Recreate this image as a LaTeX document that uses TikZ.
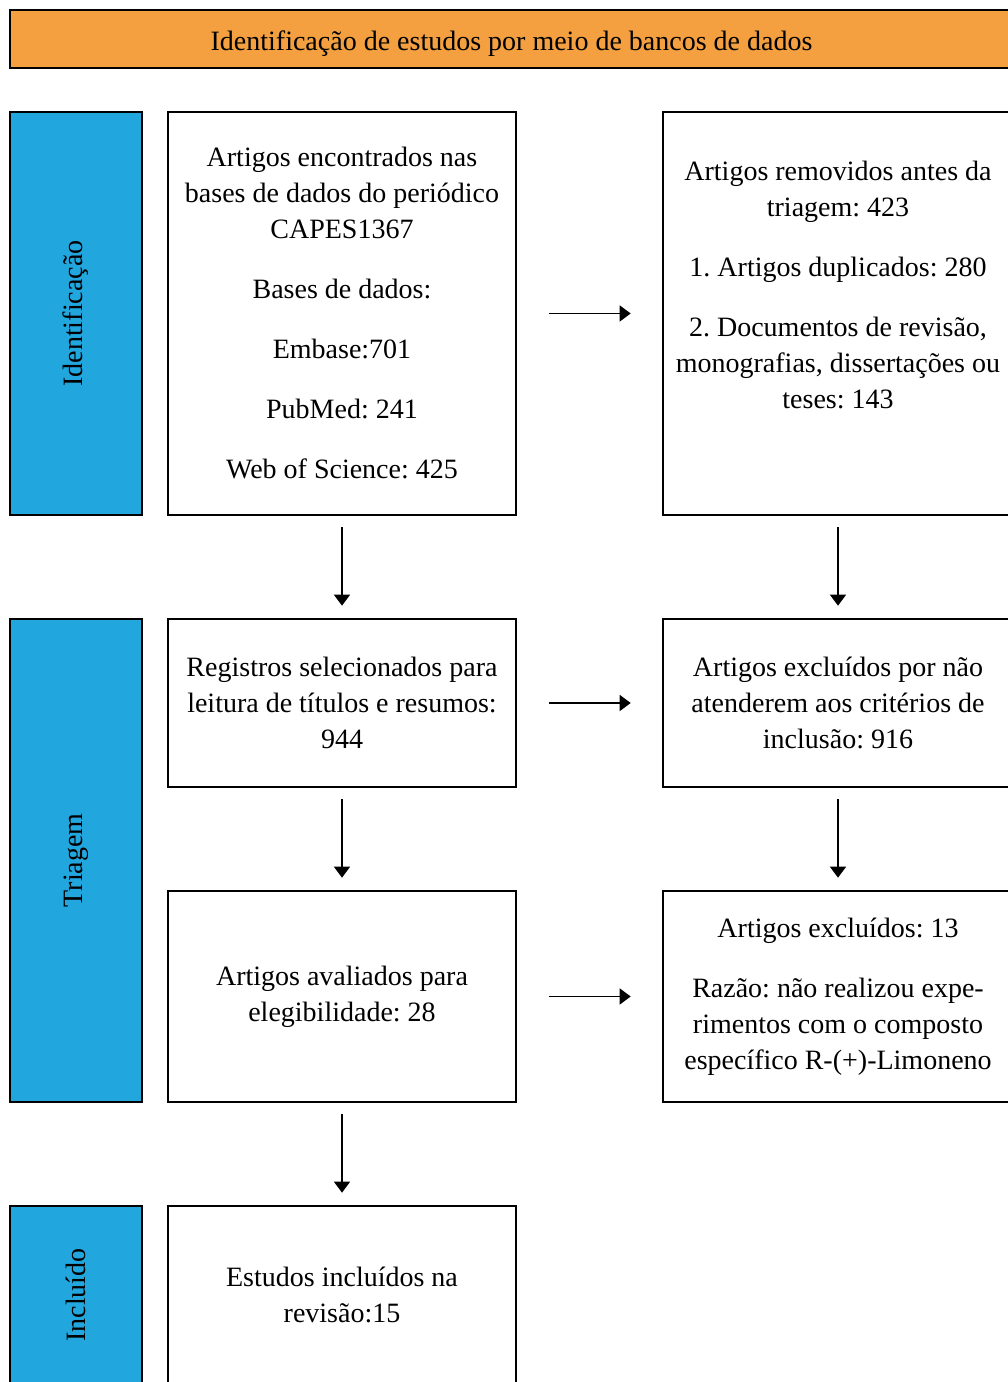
\documentclass[tikz,border=0pt]{standalone}
\usepackage{fontspec}
\setmainfont{Liberation Serif}
\usetikzlibrary{arrows.meta,positioning}

\definecolor{laranja}{HTML}{F4A040}
\definecolor{barra}{HTML}{21A6DD}
\frenchspacing

\begin{document}
\begin{tikzpicture}[x=1pt,y=1pt,
    every node/.style={font=\fontsize{28}{36}\selectfont},
    caixa/.style={draw, line width=2.6pt, fill=white, align=center, inner sep=0pt, minimum width=348pt},
    etapa/.style={draw, line width=2.6pt, fill=barra, rotate=90, inner sep=0pt, minimum height=132pt},
    seta/.style={-{Triangle[length=11pt,width=16pt]}, line width=1.3pt}]

    % area visivel
    \clip (0,0) rectangle (1008,1382);

    % cabecalho
    \node[draw, line width=2.6pt, fill=laranja, minimum width=1003pt, minimum height=58pt, text height=29pt, text depth=6pt] (topo) at (511.5,1343) {Identificação de estudos por meio de bancos de dados};

    % faixas laterais
    \node[etapa, minimum width=403pt] (fid) at (76,1068.5) {Identificação};
    \node[etapa, minimum width=483pt] (ftr) at (76,521.5) {Triagem};
    \node[etapa, minimum width=178pt] (fin) at (76,87) {Incluído};

    % coluna da esquerda
    \node[caixa, minimum height=403pt] (enc) at (342,1068.5) {Artigos encontrados nas\\ bases de dados do periódico\\ CAPES1367\\[24pt] Bases de dados:\\[24pt] Embase:701\\[24pt] PubMed: 241\\[24pt] Web of Science: 425};
    \node[caixa, minimum height=168pt] (sel) at (342,679) {Registros selecionados para\\ leitura de títulos e resumos:\\ 944};
    \node[caixa, minimum height=211pt] (ava) at (342,385.5) {Artigos avaliados para\\ elegibilidade: 28};
    \node[caixa, minimum height=178pt] (inc) at (342,87) {Estudos incluídos na\\ revisão:15};

    % coluna da direita
    \node[caixa, minimum width=350pt, minimum height=403pt] (rem) at (838,1068.5) {};
    \node[align=center, inner sep=0pt, below=50pt of rem.north] (remtxt) {Artigos removidos antes da\\ triagem: 423\\[24pt] 1. Artigos duplicados: 280\\[24pt] 2. Documentos de revisão,\\ monografias, dissertações ou\\ teses: 143};
    \node[caixa, minimum width=350pt, minimum height=168pt] (exc) at (838,679) {Artigos excluídos por não\\ atenderem aos critérios de\\ inclusão: 916};
    \node[caixa, minimum width=350pt, minimum height=211pt] (raz) at (838,385.5) {Artigos excluídos: 13\\[24pt] Razão: não realizou expe-\\ rimentos com o composto\\ específico R-(+)-Limoneno};

    % setas verticais
    \draw[seta, shorten <=11pt, shorten >=12pt] (enc) -- (sel);
    \draw[seta, shorten <=11pt, shorten >=12pt] (sel) -- (ava);
    \draw[seta, shorten <=11pt, shorten >=12pt] (ava) -- (inc);
    \draw[seta, shorten <=11pt, shorten >=12pt] (rem) -- (exc);
    \draw[seta, shorten <=11pt, shorten >=12pt] (exc) -- (raz);

    % setas horizontais
    \draw[seta, shorten <=32pt, shorten >=31pt] (enc) -- (rem);
    \draw[seta, shorten <=32pt, shorten >=31pt] (sel) -- (exc);
    \draw[seta, shorten <=32pt, shorten >=31pt] (ava) -- (raz);

\end{tikzpicture}
\end{document}
